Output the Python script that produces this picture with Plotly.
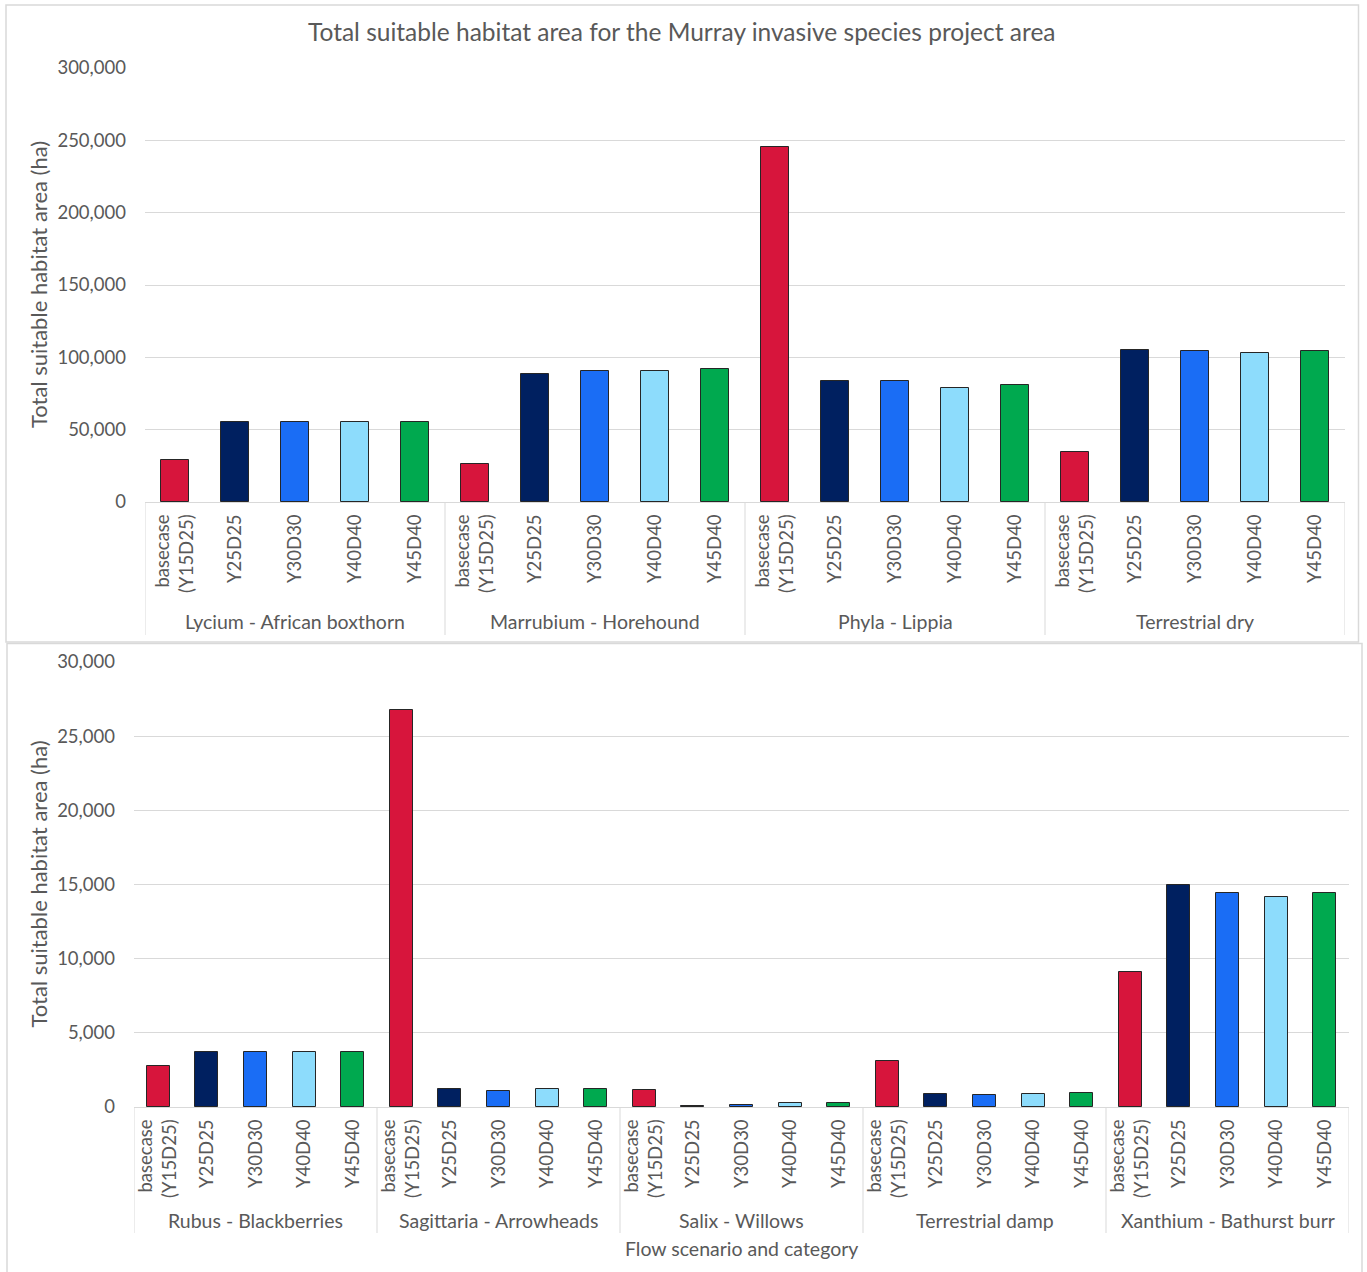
import plotly.graph_objects as go

# Flow scenarios (bar colours follow this order)
scenarios = ["basecase (Y15D25)", "Y25D25", "Y30D30", "Y40D40", "Y45D40"]
scenario_ticks = ["basecase<br>(Y15D25)", "Y25D25", "Y30D30", "Y40D40", "Y45D40"]
scenario_colors = ["#D7153C", "#002060", "#1A6DF5", "#8DDCFC", "#00A94F"]

# Upper panel: larger-area categories (ha)
top_groups = ["Lycium - African boxthorn", "Marrubium - Horehound", "Phyla - Lippia", "Terrestrial dry"]
top_basecase = [29000, 26300, 245400, 34600]
top_y25d25 = [55300, 88500, 83600, 105100]
top_y30d30 = [55300, 90600, 83600, 104400]
top_y40d40 = [55300, 90600, 78800, 103000]
top_y45d40 = [55300, 91900, 80900, 104400]

# Lower panel: smaller-area categories (ha)
bottom_groups = ["Rubus - Blackberries", "Sagittaria - Arrowheads", "Salix - Willows", "Terrestrial damp", "Xanthium - Bathurst burr"]
bottom_basecase = [2760, 26770, 1150, 3100, 9100]
bottom_y25d25 = [3710, 1210, 90, 880, 14970]
bottom_y30d30 = [3710, 1080, 160, 810, 14430]
bottom_y40d40 = [3710, 1210, 290, 880, 14160]
bottom_y45d40 = [3710, 1210, 250, 940, 14430]

title_text = "Total suitable habitat area for the Murray invasive species project area"
y_title = "Total suitable habitat area (ha)"
x_title = "Flow scenario and category"

W, H = 1367, 1272
FONT = "Lato"
TXT = "#595959"
GRID = "#D9D9D9"


def px_x(p):
    return p / W


def px_y(p):
    return 1 - p / H


top_series = [top_basecase, top_y25d25, top_y30d30, top_y40d40, top_y45d40]
bottom_series = [bottom_basecase, bottom_y25d25, bottom_y30d30, bottom_y40d40, bottom_y45d40]
n = len(scenarios)

fig = go.Figure()

for si, (vals, col) in enumerate(zip(top_series, scenario_colors)):
    fig.add_trace(go.Bar(
        x=[g * n + si for g in range(len(top_groups))], y=vals,
        marker=dict(color=col, line=dict(color="#262626", width=1)),
        width=0.46, name=scenarios[si], showlegend=False,
        xaxis="x", yaxis="y",
    ))

for si, (vals, col) in enumerate(zip(bottom_series, scenario_colors)):
    fig.add_trace(go.Bar(
        x=[g * n + si for g in range(len(bottom_groups))], y=vals,
        marker=dict(color=col, line=dict(color="#262626", width=1)),
        width=0.47, name=scenarios[si], showlegend=False,
        xaxis="x2", yaxis="y2",
    ))

# Panel geometry (pixels)
top_l, top_r, top_t, top_b = 145, 1345, 68, 502
bot_l, bot_r, bot_t, bot_b = 134, 1349, 662, 1107

xaxis_common = dict(
    tickmode="array", tickangle=-90, showgrid=False, zeroline=False,
    showline=True, linecolor=GRID, linewidth=1, ticks="", automargin=False,
    tickfont=dict(family=FONT, size=18.5, color=TXT), ticklabelstandoff=4,
)
yaxis_common = dict(
    showgrid=True, gridcolor=GRID, gridwidth=1, zeroline=False, showline=False,
    ticks="", tickformat=",d", automargin=False,
    tickfont=dict(family=FONT, size=18.5, color=TXT),
)

n_top = len(top_groups) * n
n_bot = len(bottom_groups) * n

fig.update_layout(
    width=W, height=H, autosize=False, margin=dict(l=0, r=0, t=0, b=0, pad=0),
    paper_bgcolor="white", plot_bgcolor="white", bargap=0,
    xaxis=dict(domain=[px_x(top_l), px_x(top_r)], anchor="y", range=[-0.5, n_top - 0.5],
               tickvals=list(range(n_top)), ticktext=scenario_ticks * len(top_groups), **xaxis_common),
    yaxis=dict(domain=[px_y(top_b), px_y(top_t)], anchor="x", range=[0, 300000], dtick=50000,
               ticklabelstandoff=18, **yaxis_common),
    xaxis2=dict(domain=[px_x(bot_l), px_x(bot_r)], anchor="y2", range=[-0.5, n_bot - 0.5],
                tickvals=list(range(n_bot)), ticktext=scenario_ticks * len(bottom_groups), **xaxis_common),
    yaxis2=dict(domain=[px_y(bot_b), px_y(bot_t)], anchor="x2", range=[0, 30000], dtick=5000,
                ticklabelstandoff=18, **yaxis_common),
)

shapes = []
annotations = []

# Panel frames (the lower frame runs off the bottom of the page)
shapes.append(dict(type="rect", xref="paper", yref="paper", x0=px_x(6), x1=px_x(1358.5),
                   y0=px_y(642), y1=px_y(5), line=dict(color=GRID, width=1.5), layer="below"))
shapes.append(dict(type="rect", xref="paper", yref="paper", x0=px_x(7), x1=px_x(1362),
                   y0=px_y(1280), y1=px_y(643.5), line=dict(color=GRID, width=1.5), layer="below"))

# Category dividers and group labels
for xr, groups, axis_b, div_b, lab_y in [("x", top_groups, top_b, 635, 622),
                                         ("x2", bottom_groups, bot_b, 1233, 1220)]:
    for g in range(len(groups) + 1):
        shapes.append(dict(type="line", xref=xr, yref="paper", x0=g * n - 0.5, x1=g * n - 0.5,
                           y0=px_y(axis_b), y1=px_y(div_b), line=dict(color=GRID, width=1)))
    for g, name in enumerate(groups):
        annotations.append(dict(text=name, xref=xr, yref="paper", x=g * n + (n - 1) / 2,
                                y=px_y(lab_y), showarrow=False, xanchor="center", yanchor="middle",
                                font=dict(family=FONT, size=19.5, color=TXT)))

# Titles
annotations.append(dict(text=title_text, xref="paper", yref="paper", x=px_x(682), y=px_y(32),
                        showarrow=False, xanchor="center", yanchor="middle",
                        font=dict(family=FONT, size=24.5, color=TXT)))
for cy in [(top_t + top_b) / 2, (bot_t + bot_b) / 2]:
    annotations.append(dict(text=y_title, xref="paper", yref="paper", x=px_x(38), y=px_y(cy),
                            showarrow=False, textangle=-90, xanchor="center", yanchor="middle",
                            font=dict(family=FONT, size=22, color=TXT)))
annotations.append(dict(text=x_title, xref="paper", yref="paper", x=px_x((bot_l + bot_r) / 2),
                        y=px_y(1248), showarrow=False, xanchor="center", yanchor="middle",
                        font=dict(family=FONT, size=19.5, color=TXT)))

fig.update_layout(shapes=shapes, annotations=annotations)

fig.write_html("out.html", post_script="document.body.style.margin='0px';")
